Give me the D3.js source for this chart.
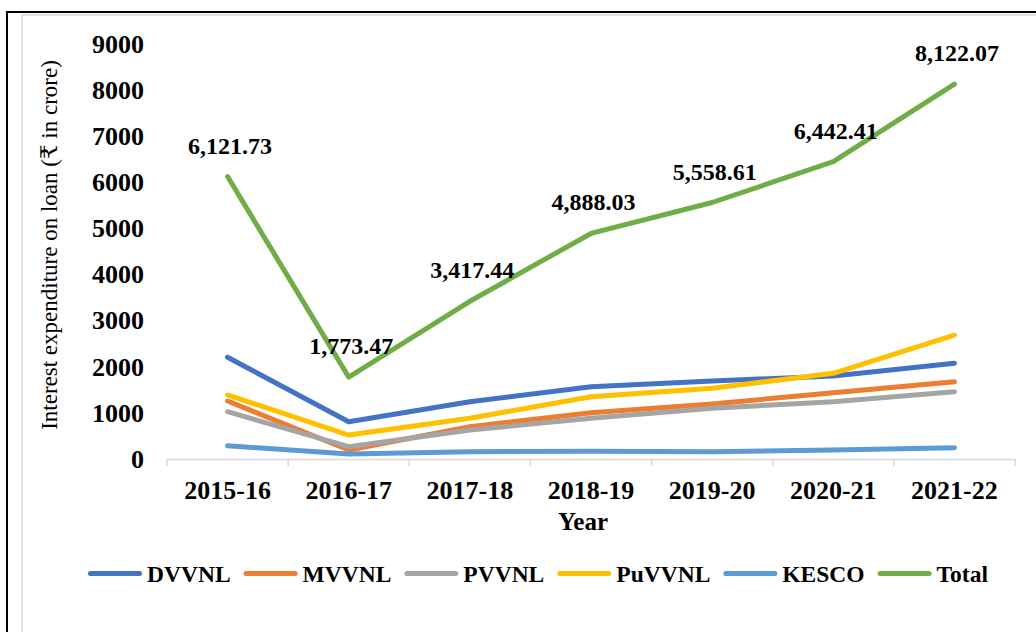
<!DOCTYPE html>
<html>
<head>
<meta charset="utf-8">
<script src="https://cdn.jsdelivr.net/npm/d3@7"></script>
<style>
  html, body { margin: 0; padding: 0; background: #fff; }
  svg { display: block; }
  text { font-family: "Liberation Serif", "Times New Roman", "DejaVu Serif", serif; fill: #000; }
</style>
</head>
<body>
<svg id="chart" width="1036" height="632"></svg>
<script>
const years = ["2015-16", "2016-17", "2017-18", "2018-19", "2019-20", "2020-21", "2021-22"];
const dvvnl  = [2204, 808, 1242, 1567, 1690, 1799, 2074];
const mvvnl  = [1257, 195, 700, 1004, 1192, 1437, 1675];
const pvvnl  = [1025, 267, 628, 882, 1099, 1242, 1459];
const puvvnl = [1387, 520, 882, 1350, 1532, 1857, 2687];
const kesco  = [288, 108, 158, 170, 158, 195, 245];
const total  = [6121.73, 1773.47, 3417.44, 4888.03, 5558.61, 6442.41, 8122.07];
const totalLabels = ["6,121.73", "1,773.47", "3,417.44", "4,888.03", "5,558.61", "6,442.41", "8,122.07"];
const seriesNames = ["DVVNL", "MVVNL", "PVVNL", "PuVVNL", "KESCO", "Total"];
const seriesColors = ["#4472C4", "#ED7D31", "#A5A5A5", "#FFC000", "#5B9BD5", "#70AD47"];
const yTicks = [0, 1000, 2000, 3000, 4000, 5000, 6000, 7000, 8000, 9000];
const yTitle = "Interest expenditure on loan (\u20B9 in crore)";
const xTitle = "Year";

const seriesData = [dvvnl, mvvnl, pvvnl, puvvnl, kesco, total];

const svg = d3.select("#chart");

// outer frames
svg.append("rect").attr("x", 7).attr("y", 12).attr("width", 1200).attr("height", 800)
  .attr("fill", "none").attr("stroke", "#000").attr("stroke-width", 2);
svg.append("rect").attr("x", 22).attr("y", 15).attr("width", 1200).attr("height", 800)
  .attr("fill", "none").attr("stroke", "#D9D9D9").attr("stroke-width", 1.5);

const x = d3.scaleBand().domain(years).range([167, 1015]).padding(0);
const y = d3.scaleLinear().domain([0, 9000]).range([459, 43.7]);
const cx = d => x(d) + x.bandwidth() / 2;

// y axis (labels only)
const yAxis = d3.axisLeft(y).tickValues(yTicks).tickSize(0).tickPadding(23).tickFormat(d3.format("d"));
const gy = svg.append("g").attr("transform", "translate(167,0)").call(yAxis);
gy.select(".domain").remove();
gy.selectAll("text").attr("font-size", 26).attr("font-weight", "bold")
  .style("font-family", '"Liberation Serif", "Times New Roman", serif').attr("fill", "#000");

// x axis
const xAxis = d3.axisBottom(x).tickSize(0).tickPadding(0);
const gx = svg.append("g").attr("transform", "translate(0,459)").call(xAxis);
gx.select(".domain").attr("stroke", "#D9D9D9").attr("stroke-width", 1.5);
gx.selectAll("text").attr("font-size", 26).attr("font-weight", "bold")
  .attr("y", 40).attr("dy", 0)
  .style("font-family", '"Liberation Serif", "Times New Roman", serif').attr("fill", "#000");
const boundaries = years.map(d => x(d)).concat([x.range()[1]]);
gx.selectAll(".bound").data(boundaries).enter().append("line")
  .attr("class", "bound")
  .attr("x1", d => d).attr("x2", d => d).attr("y1", 0).attr("y2", 7)
  .attr("stroke", "#D9D9D9").attr("stroke-width", 1.5);

// lines
const line = d3.line().x((d, i) => cx(years[i])).y(d => y(d));
seriesData.forEach((arr, si) => {
  svg.append("path").datum(arr)
    .attr("d", line)
    .attr("fill", "none")
    .attr("stroke", seriesColors[si])
    .attr("stroke-width", 5)
    .attr("stroke-linecap", "round")
    .attr("stroke-linejoin", "round");
});

// total data labels
svg.selectAll(".tlabel").data(total).enter().append("text")
  .attr("class", "tlabel")
  .attr("x", (d, i) => cx(years[i]) + 2.5)
  .attr("y", d => y(d) - 23)
  .attr("text-anchor", "middle")
  .attr("font-size", 24).attr("font-weight", "bold")
  .text((d, i) => totalLabels[i]);

// axis titles
svg.append("text")
  .attr("transform", "translate(57,245) rotate(-90)")
  .attr("text-anchor", "middle")
  .attr("font-size", 23)
  .text(yTitle);
svg.append("text")
  .attr("x", 583).attr("y", 530)
  .attr("text-anchor", "middle")
  .attr("font-size", 25).attr("font-weight", "bold")
  .text(xTitle);

// legend
let lx = 88;
const ly = 573.5;
seriesNames.forEach((name, i) => {
  svg.append("line")
    .attr("x1", lx + 2.5).attr("x2", lx + 54 - 2.5).attr("y1", ly).attr("y2", ly)
    .attr("stroke", seriesColors[i]).attr("stroke-width", 5).attr("stroke-linecap", "round");
  const t = svg.append("text")
    .attr("x", lx + 59).attr("y", ly + 8)
    .attr("font-size", 23.5).attr("font-weight", "bold")
    .text(name);
  const w = t.node().getComputedTextLength();
  lx = lx + 59 + w + 13;
});
</script>
</body>
</html>
